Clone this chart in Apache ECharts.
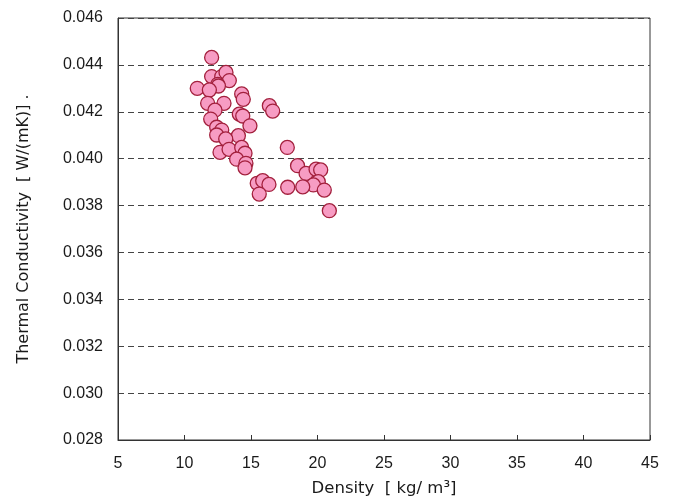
<!DOCTYPE html>
<html>
<head>
<meta charset="utf-8">
<script src="https://cdn.jsdelivr.net/npm/echarts@6/dist/echarts.min.js"></script>
<style>
  html, body { margin: 0; padding: 0; background: #fff; }
  #chart { width: 676px; height: 502px; }
</style>
</head>
<body>
<div id="chart"></div>
<script>
// density [kg/m3]
const density = [
    12.04, 12.04, 12.8, 13.12, 13.37, 12.5, 12.55, 10.96, 11.87, 14.3,
    14.42, 11.74, 12.97, 16.38, 16.63, 12.29, 14.12, 14.38, 11.97, 14.92,
    12.42, 12.8, 12.42, 14.05, 13.1, 12.67, 13.35, 14.3, 14.55, 13.92,
    14.62, 14.55, 17.73, 18.5, 19.14, 19.89, 20.24, 20.06, 19.69, 18.89,
    20.51, 17.76, 15.47, 15.88, 16.35, 15.62, 20.89
]
// thermal conductivity [W/(mK)]
const conductivity = [
    0.04432, 0.04350, 0.04350, 0.04368, 0.04333, 0.04317, 0.04310, 0.04300, 0.04293, 0.04276,
    0.04253, 0.04236, 0.04236, 0.04226, 0.04203, 0.04207, 0.04190, 0.04182, 0.04169, 0.04140,
    0.04134, 0.04122, 0.04101, 0.04098, 0.04084, 0.04027, 0.04040, 0.04048, 0.04023, 0.03998,
    0.03980, 0.03961, 0.04048, 0.03970, 0.03937, 0.03955, 0.03952, 0.03902, 0.03888, 0.03880,
    0.03866, 0.03878, 0.03895, 0.03906, 0.03890, 0.03849, 0.03778
]

const font = 'Liberation Sans, Arial, sans-serif'
const nameFont = 'DejaVu Sans, sans-serif'
const textColor = '#1a1a1a'

const myChart = echarts.init(document.getElementById('chart'), null, { renderer: 'canvas' })
const points = density.map((d, i) => [d, conductivity[i]])

myChart.setOption({
    animation: false,
    grid: {
        left: 118,
        right: 26,
        top: 18,
        bottom: 62,
        show: true,
        borderColor: '#333',
        borderWidth: 1
    },
    xAxis: {
        type: 'value',
        min: 5,
        max: 45,
        interval: 5,
        name: 'Density  [ kg/ m³]',
        nameLocation: 'middle',
        nameGap: 40,
        nameTextStyle: { fontFamily: nameFont, fontSize: 16.5, color: textColor },
        axisLine: { lineStyle: { color: '#333' } },
        axisTick: { inside: true, length: 5, lineStyle: { color: '#333' } },
        axisLabel: { fontFamily: font, fontSize: 16, color: textColor, margin: 16 },
        splitLine: { show: false }
    },
    yAxis: {
        type: 'value',
        min: 0.028,
        max: 0.046,
        interval: 0.002,
        name: 'Thermal Conductivity  [ W/(mK)] .',
        nameLocation: 'middle',
        nameRotate: 90,
        nameGap: 86,
        nameTextStyle: { fontFamily: nameFont, fontSize: 16, color: textColor },
        axisLine: { show: true, lineStyle: { color: '#333' } },
        axisTick: { show: false },
        axisLabel: {
            fontFamily: font, fontSize: 16, color: textColor, margin: 15,
            formatter: v => v.toFixed(3)
        },
        splitLine: { lineStyle: { color: '#444', type: [6, 4], width: 1.2 } }
    },
    series: [{
        type: 'scatter',
        data: points,
        symbol: 'circle',
        symbolSize: 14,
        itemStyle: {
            color: '#f79cc3',
            borderColor: '#a3203d',
            borderWidth: 1.3,
            opacity: 1
        }
    }]
})
</script>
</body>
</html>
